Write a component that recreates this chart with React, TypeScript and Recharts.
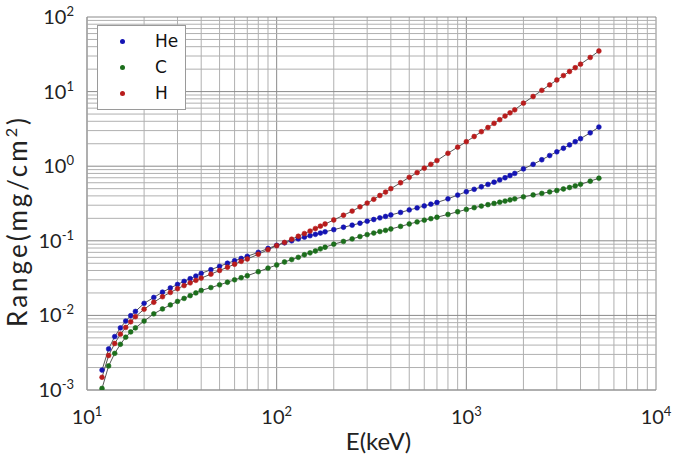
import { LineChart, Line, XAxis, YAxis, ReferenceLine, Legend } from 'recharts'

// energy grid (keV), SRIM-style steps
const ENERGY = [
  12, 13, 14, 15, 16, 17, 18, 20, 22.5, 25, 27.5, 30, 32.5, 35, 37.5, 40,
  45, 50, 55, 60, 65, 70, 80, 90, 100, 110, 120, 130, 140, 150, 160, 170, 180,
  200, 225, 250, 275, 300, 325, 350, 375, 400, 450, 500, 550, 600, 650, 700,
  800, 900, 1000, 1100, 1200, 1300, 1400, 1500, 1600, 1700, 1800,
  2000, 2250, 2500, 2750, 3000, 3250, 3500, 3750, 4000, 4500, 5000,
]

// range in mg/cm2
const HE = [
  0.00185, 0.00355, 0.0052, 0.0068, 0.0084, 0.0099, 0.0113, 0.0145, 0.0174, 0.0205, 0.0233, 0.026, 0.0286, 0.0311, 0.0337, 0.0365,
  0.041, 0.0455, 0.05, 0.054, 0.058, 0.062, 0.07, 0.079, 0.087, 0.094, 0.1, 0.106, 0.112, 0.117, 0.122, 0.127, 0.132,
  0.141, 0.152, 0.162, 0.172, 0.183, 0.193, 0.203, 0.212, 0.222, 0.24, 0.259, 0.276, 0.293, 0.31, 0.326,
  0.365, 0.41, 0.455, 0.49, 0.53, 0.57, 0.61, 0.655, 0.7, 0.75, 0.8,
  0.92, 1.06, 1.22, 1.39, 1.56, 1.74, 1.93, 2.13, 2.34, 2.8, 3.35,
]

const C = [
  0.00105, 0.0021, 0.0031, 0.0041, 0.0051, 0.006, 0.0068, 0.0084, 0.0105, 0.0122, 0.0138, 0.0154, 0.0169, 0.0184, 0.02, 0.0216,
  0.0236, 0.0257, 0.0278, 0.03, 0.032, 0.034, 0.0385, 0.043, 0.0474, 0.052, 0.056, 0.06, 0.065, 0.069, 0.073, 0.078, 0.082,
  0.09, 0.098, 0.106, 0.114, 0.121, 0.127, 0.133, 0.138, 0.144, 0.156, 0.168, 0.179, 0.189, 0.198, 0.207,
  0.226, 0.245, 0.263, 0.278, 0.292, 0.305, 0.317, 0.329, 0.341, 0.353, 0.365,
  0.388, 0.412, 0.432, 0.452, 0.472, 0.495, 0.518, 0.544, 0.572, 0.63, 0.69,
]

const H = [
  0.00148, 0.0029, 0.0042, 0.0056, 0.0069, 0.0082, 0.0096, 0.0121, 0.015, 0.0178, 0.0203, 0.0228, 0.0251, 0.0273, 0.0295, 0.0316,
  0.0357, 0.04, 0.0442, 0.0485, 0.053, 0.057, 0.066, 0.076, 0.086, 0.095, 0.105, 0.115, 0.125, 0.135, 0.146, 0.157, 0.168,
  0.19, 0.22, 0.25, 0.285, 0.32, 0.36, 0.405, 0.45, 0.5, 0.6, 0.71, 0.82, 0.94, 1.06, 1.19,
  1.49, 1.8, 2.13, 2.5, 2.9, 3.3, 3.75, 4.2, 4.7, 5.2, 5.7,
  7.0, 8.6, 10.4, 12.3, 14.3, 16.4, 18.6, 20.9, 23.3, 28.7, 35.0,
]

const X_TICKS = [10, 100, 1000, 10000]
const Y_TICKS = [0.001, 0.01, 0.1, 1, 10, 100]

const SERIES = [
  { key: 'he', name: 'He', color: '#1414b4' },
  { key: 'c', name: 'C', color: '#1c6e1c' },
  { key: 'h', name: 'H', color: '#b81c1c' },
]

const data = ENERGY.map((e, i) => ({ e, he: HE[i], c: C[i], h: H[i] }))

// log grid: 1..9 x each decade
function logGrid(ticks: number[]) {
  const out: { v: number; major: boolean }[] = []
  for (let d = 0; d < ticks.length - 1; d++) {
    for (let k = 1; k <= 9; k++) out.push({ v: ticks[d] * k, major: k === 1 })
  }
  out.push({ v: ticks[ticks.length - 1], major: true })
  return out
}

const FONT = 'Lato, "Open Sans", sans-serif'

function XTick({ x, y, payload }: any) {
  const exp = Math.round(Math.log10(payload.value))
  return (
    <text x={x} y={y + 34} textAnchor="middle" fontFamily={FONT} fontSize={20} fill="#222">
      <tspan>10</tspan>
      <tspan dy={-8} fontSize={13}>{exp}</tspan>
    </text>
  )
}

function YTick({ x, y, payload }: any) {
  const exp = Math.round(Math.log10(payload.value))
  return (
    <text x={x - 13} y={y + 7} textAnchor="end" fontFamily={FONT} fontSize={20} fill="#222">
      <tspan>10</tspan>
      <tspan dy={-8} fontSize={13}>{exp}</tspan>
    </text>
  )
}

function RangeLegend() {
  return (
    <div
      style={{
        position: 'relative', width: 89, height: 85, boxSizing: 'border-box',
        border: '1px solid #9a9a9a', background: '#fff',
        fontFamily: '"DejaVu Sans", sans-serif', fontSize: 17, color: '#111',
      }}
    >
      {SERIES.map((s, i) => (
        <div key={s.key} style={{ position: 'absolute', left: 0, top: 4 + i * 26, width: 87, height: 22 }}>
          <span
            style={{
              position: 'absolute', left: 22, top: 9, width: 5, height: 5,
              borderRadius: '50%', background: s.color,
            }}
          />
          <span style={{ position: 'absolute', left: 57, top: 0, lineHeight: '22px' }}>{s.name}</span>
        </div>
      ))}
    </div>
  )
}

export default function App() {
  return (
    <div style={{ position: 'absolute', left: 0, top: 0, background: '#fff' }}>
      <LineChart width={679} height={459} data={data} margin={{ top: 17, right: 23, bottom: 0, left: 0 }}>
        {logGrid(X_TICKS).map(g => (
          <ReferenceLine key={'x' + g.v} x={g.v} stroke={g.major ? '#8a8a8a' : '#b0b0b0'} strokeWidth={1} />
        ))}
        {logGrid(Y_TICKS).map(g => (
          <ReferenceLine key={'y' + g.v} y={g.v} stroke={g.major ? '#8a8a8a' : '#b0b0b0'} strokeWidth={1} />
        ))}
        <XAxis
          dataKey="e"
          type="number"
          scale="log"
          domain={[10, 10000]}
          ticks={X_TICKS}
          allowDataOverflow
          height={69}
          tickSize={0}
          tickMargin={0}
          axisLine={{ stroke: '#999' }}
          tickLine={false}
          tick={<XTick />}
          label={{
            content: ({ viewBox }: any) => (
              <text x={viewBox.x + viewBox.width / 2 + 7} y={viewBox.y + 60} textAnchor="middle"
                fontFamily={FONT} fontSize={24} fill="#222">E(keV)</text>
            ),
          }}
        />
        <YAxis
          type="number"
          scale="log"
          domain={[0.001, 100]}
          ticks={Y_TICKS}
          allowDataOverflow
          width={87}
          tickSize={0}
          tickMargin={0}
          axisLine={{ stroke: '#999' }}
          tickLine={false}
          tick={<YTick />}
          label={{
            content: () => (
              <text x={27} y={221} transform="rotate(-90, 27, 221)" textAnchor="middle"
                fontFamily={FONT} fontSize={26} letterSpacing={3} fill="#222">
                <tspan>Range(mg/cm</tspan>
                <tspan dy={-10} fontSize={16}>2</tspan>
                <tspan dy={10}>)</tspan>
              </text>
            ),
          }}
        />
        {SERIES.map(s => (
          <Line
            key={s.key}
            dataKey={s.key}
            name={s.name}
            type="linear"
            stroke="#555"
            strokeWidth={1}
            dot={{ r: 2.4, fill: s.color, stroke: s.color, strokeWidth: 0.6 }}
            activeDot={false}
            isAnimationActive={false}
          />
        ))}
        <Legend
          layout="vertical"
          align="center"
          verticalAlign="middle"
          content={<RangeLegend />}
          wrapperStyle={{ left: 97, top: 25, width: 89, height: 85 }}
        />
      </LineChart>
    </div>
  )
}
